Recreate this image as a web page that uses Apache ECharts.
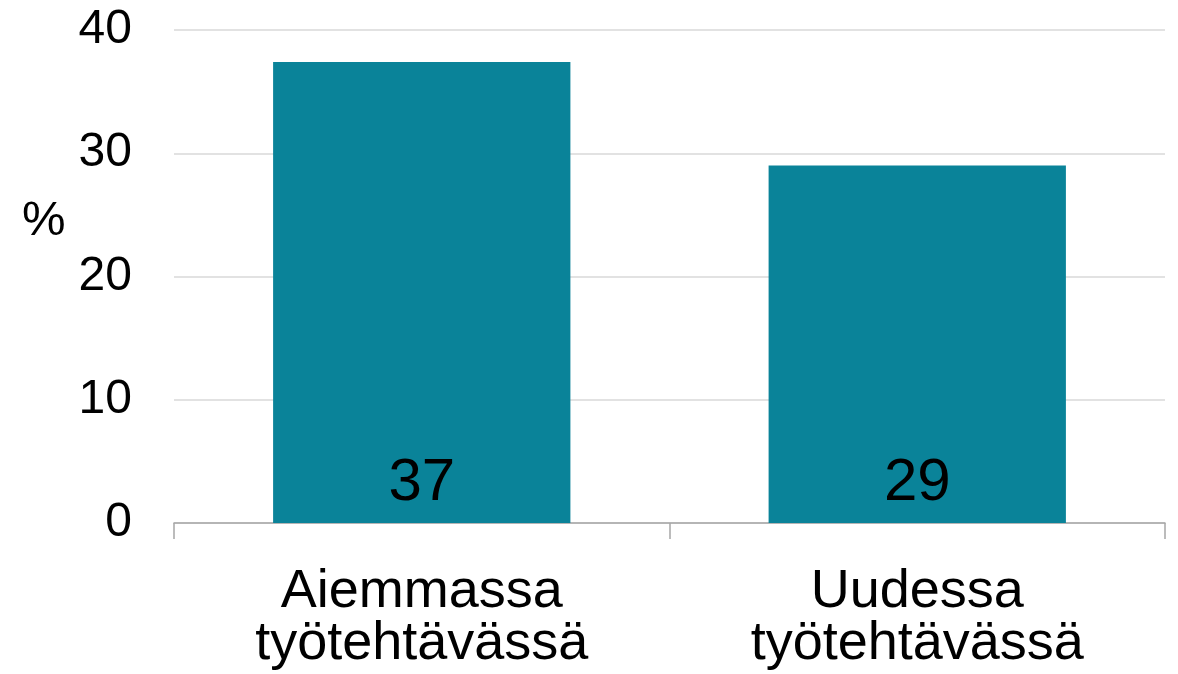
<!DOCTYPE html>
<html>
<head>
<meta charset="utf-8">
<script src="https://cdn.jsdelivr.net/npm/echarts@6/dist/echarts.min.js"></script>
<style>
  html, body { margin: 0; padding: 0; background: #fff; }
  #chart { width: 1178px; height: 674px; }
</style>
</head>
<body>
<div id="chart"></div>
<script>
// data
var categories = ['Aiemmassa\ntyötehtävässä', 'Uudessa\ntyötehtävässä'];
var values = [37.4, 29.0];
var yTicks = [0, 10, 20, 30, 40];

var font = 'Liberation Sans, Arial, sans-serif';
var chart = echarts.init(document.getElementById('chart'));

var option = {
  animation: false,
  grid: { left: 174, right: 13, top: 30, bottom: 151, containLabel: false },
  graphic: [{
    type: 'text',
    left: 22,
    top: 197,
    style: { text: '%', font: '49px ' + font, fill: '#000' }
  }],
  xAxis: {
    type: 'category',
    data: categories,
    axisLine: { lineStyle: { color: '#a6a6a6', width: 1.5 } },
    axisTick: { show: true, length: 16, lineStyle: { color: '#a6a6a6', width: 1.5 } },
    axisLabel: {
      color: '#000', fontSize: 54, fontFamily: font,
      lineHeight: 52, margin: 43, interval: 0
    }
  },
  yAxis: {
    type: 'value',
    min: yTicks[0],
    max: yTicks[yTicks.length - 1],
    interval: 10,
    axisLine: { show: false },
    axisTick: { show: false },
    splitLine: { lineStyle: { color: '#d9d9d9', width: 1.5 } },
    axisLabel: { color: '#000', fontSize: 48, fontFamily: font, margin: 42 }
  },
  series: [{
    type: 'bar',
    data: values,
    barWidth: '60%',
    itemStyle: { color: '#0a8399' },
    label: {
      show: true,
      position: 'insideBottom',
      distance: 10,
      color: '#000',
      fontSize: 60,
      fontFamily: font,
      formatter: function (p) { return Math.round(p.value); }
    }
  }]
};

chart.setOption(option);
</script>
</body>
</html>
